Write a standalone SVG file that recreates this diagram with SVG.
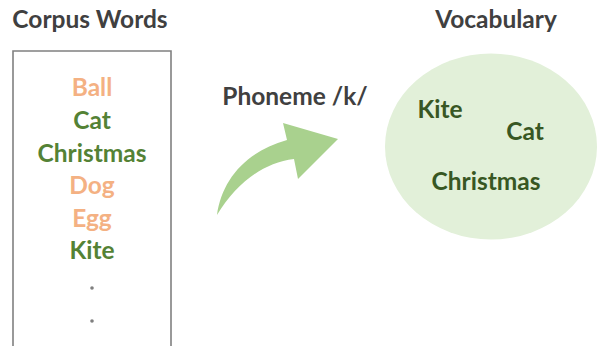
<svg xmlns="http://www.w3.org/2000/svg" width="598" height="346" viewBox="0 0 598 346">
<style>
text{font-family:Lato,"Open Sans","Liberation Sans",sans-serif;font-weight:bold;font-size:24.5px;text-anchor:middle}
.t{fill:#404040}
.o{fill:#F4B183}
.g{fill:#548235}
.d{fill:#385723}
.dot{fill:#7f7f7f}
</style>
<rect width="598" height="346" fill="#ffffff"/>
<g id="corpus">
<text class="t" x="90" y="28">Corpus Words</text>
<path d="M13,346 V51 H171 V346" fill="none" stroke="#808080" stroke-width="1.6"/>
<text class="o" x="92" y="96">Ball</text>
<text class="g" x="92" y="129">Cat</text>
<text class="g" x="92" y="162">Christmas</text>
<text class="o" x="92" y="194">Dog</text>
<text class="o" x="92" y="227">Egg</text>
<text class="g" x="92" y="259">Kite</text>
<circle class="dot" cx="92" cy="288" r="1.8"/>
<circle class="dot" cx="92" cy="321" r="1.8"/>
</g>
<g id="connectors">
<text class="t" x="295" y="105">Phoneme /k/</text>
<path d="M217,215 C222,180 245,152 287,140 L283,123 L338,139 L298,179 L294,159 C262,163 236,184 217,215 Z" fill="#A9D18E"/>
</g>
<g id="vocabulary">
<text class="t" x="496" y="28">Vocabulary</text>
<ellipse cx="491" cy="146.5" rx="106" ry="93" fill="#E2F0D9"/>
<text class="d" x="440" y="118">Kite</text>
<text class="d" x="525" y="140">Cat</text>
<text class="d" x="486" y="190">Christmas</text>
</g>
</svg>
